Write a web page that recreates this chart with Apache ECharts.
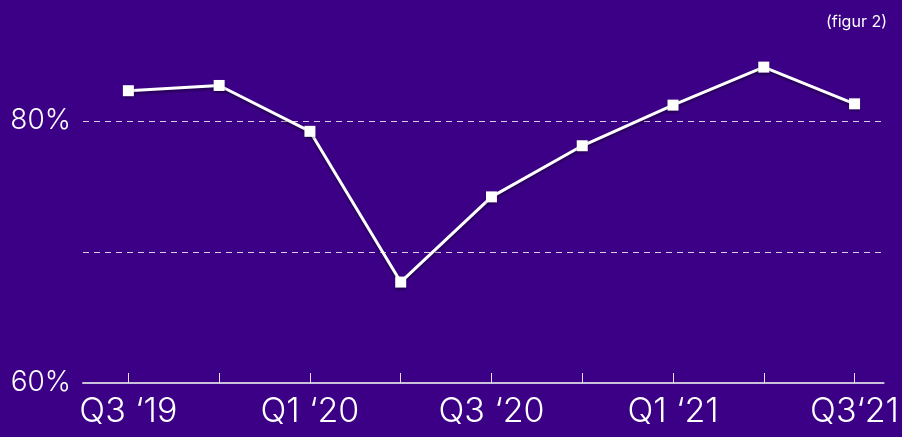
<!DOCTYPE html>
<html>
<head>
<meta charset="utf-8">
<script src="https://cdn.jsdelivr.net/npm/echarts@6/dist/echarts.min.js"></script>
<style>
  html, body { margin: 0; padding: 0; background: #3c0086; }
  #chart { width: 902px; height: 437px; }
</style>
</head>
<body>
<div id="chart"></div>
<script>
// quarters Q3 '19 .. Q3 '21
const quarters = ['Q3 \u201819', 'Q4 \u201819', 'Q1 \u201820', 'Q2 \u201820', 'Q3 \u201820', 'Q4 \u201820', 'Q1 \u201821', 'Q2 \u201821', 'Q3\u201821'];
const values = [82.3, 82.7, 79.2, 67.7, 74.2, 78.1, 81.2, 84.1, 81.3];
const shownLabels = [0, 2, 4, 6, 8];
const yLabels = [60, 80];

const fontFamily = 'Inter, "Noto Sans", sans-serif';
const chart = echarts.init(document.getElementById('chart'));

chart.setOption({
  backgroundColor: '#3c0086',
  animation: false,
  title: {
    text: '(figur 2)',
    right: 10,
    top: 9,
    textStyle: { color: '#ffffff', fontSize: 16, fontWeight: 'normal', fontFamily },
  },
  grid: {
    left: 83,
    right: 17,
    top: 16,
    bottom: 54,
  },
  xAxis: {
    type: 'value',
    min: -0.5,
    max: 8.32,
    axisLine: { show: true, onZero: false, lineStyle: { color: '#c9c0dc', width: 2 } },
    axisTick: {
      show: true,
      inside: true,
      length: 10,
      customValues: quarters.map((q, i) => i),
      lineStyle: { color: '#e6e0ee', width: 1 },
    },
    axisLabel: {
      customValues: shownLabels,
      formatter: (v) => quarters[v],
      color: '#ffffff',
      fontSize: 34,
      fontWeight: 300,
      fontFamily,
      margin: 12,
    },
    splitLine: { show: false },
  },
  yAxis: {
    type: 'value',
    min: 60,
    max: 88,
    interval: 10,
    axisLine: { show: false },
    axisTick: { show: false },
    axisLabel: {
      formatter: (v) => (yLabels.includes(v) ? v + '%' : ''),
      color: '#ffffff',
      fontSize: 28,
      fontWeight: 300,
      fontFamily,
      margin: 12,
    },
    splitLine: {
      show: true,
      lineStyle: {
        color: ['transparent', '#d6cfe4', '#d6cfe4', 'transparent'],
        type: [6, 5],
        width: 1,
      },
    },
  },
  series: [{
    type: 'line',
    data: values.map((v, i) => [i, v]),
    symbol: 'rect',
    symbolSize: 11,
    lineStyle: {
      color: '#ffffff',
      width: 3,
      shadowColor: 'rgba(0,0,0,0.45)',
      shadowBlur: 3,
      shadowOffsetY: 2,
    },
    itemStyle: {
      color: '#ffffff',
      shadowColor: 'rgba(0,0,0,0.45)',
      shadowBlur: 3,
      shadowOffsetY: 2,
    },
  }],
});
</script>
</body>
</html>
